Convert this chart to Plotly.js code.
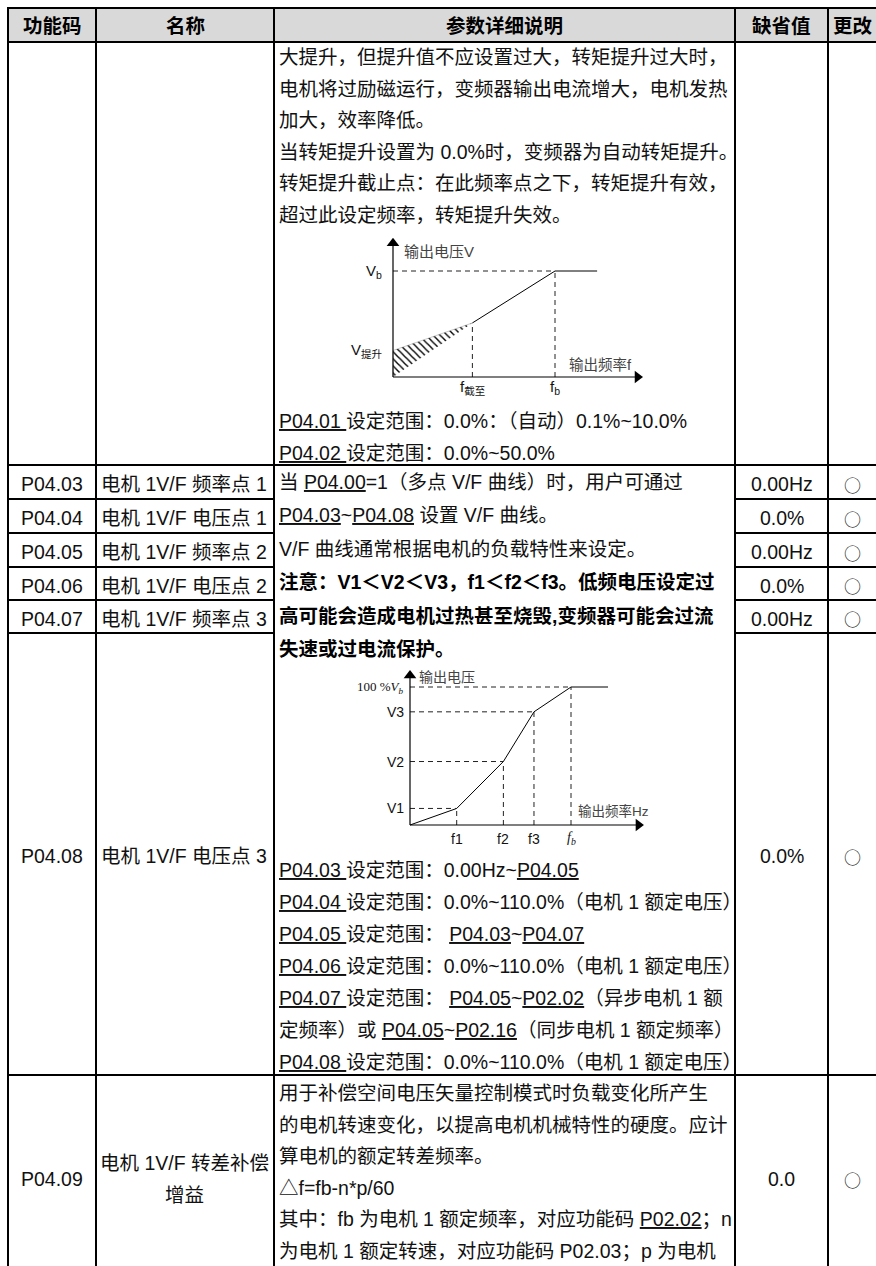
<!DOCTYPE html>
<html>
<head>
<meta charset="utf-8">
<script src="https://cdn.plot.ly/plotly-3.0.1.min.js"></script>
<style>
  html, body { margin: 0; padding: 0; background: #fff; }
  #chart { width: 876px; height: 1266px; }
</style>
</head>
<body>
<div id="chart"></div>
<script>
// ---------------------------------------------------------------------------
//  Table content (P04 group, V/F parameters)
// ---------------------------------------------------------------------------
const headers  = ['功能码', '名称', '参数详细说明', '缺省值', '更改'];
const codes    = ['', 'P04.03', 'P04.04', 'P04.05', 'P04.06', 'P04.07', 'P04.08', 'P04.09'];
const names    = [[], ['电机 1V/F 频率点 1'], ['电机 1V/F 电压点 1'], ['电机 1V/F 频率点 2'],
                  ['电机 1V/F 电压点 2'], ['电机 1V/F 频率点 3'], ['电机 1V/F 电压点 3'],
                  ['电机 1V/F 转差补偿', '增益']];
const defaults = ['', '0.00Hz', '0.0%', '0.00Hz', '0.0%', '0.00Hz', '0.0%', '0.0'];
const changes  = ['', '○', '○', '○', '○', '○', '○', '○'];

const descBoost = [
  '大提升，但提升值不应设置过大，转矩提升过大时，',
  '电机将过励磁运行，变频器输出电流增大，电机发热',
  '加大，效率降低。',
  '当转矩提升设置为 0.0%时，变频器为自动转矩提升。',
  '转矩提升截止点：在此频率点之下，转矩提升有效，',
  '超过此设定频率，转矩提升失效。',
];
const descBoostRange = [
  '<u>P04.01 </u>设定范围：0.0%：（自动）0.1%~10.0%',
  '<u>P04.02 </u>设定范围：0.0%~50.0%',
];
const descVf = [
  '当 <u>P04.00</u>=1（多点 V/F 曲线）时，用户可通过',
  '<u>P04.03</u>~<u>P04.08</u> 设置 V/F 曲线。',
  'V/F 曲线通常根据电机的负载特性来设定。',
  '注意：V1＜V2＜V3，f1＜f2＜f3。低频电压设定过',
  '高可能会造成电机过热甚至烧毁,变频器可能会过流',
  '失速或过电流保护。',
];
const descVfBold = [false, false, false, true, true, true];
const descVfRange = [
  '<u>P04.03 </u>设定范围：0.00Hz~<u>P04.05</u>',
  '<u>P04.04 </u>设定范围：0.0%~110.0%（电机 1 额定电压）',
  '<u>P04.05 </u>设定范围： <u>P04.03</u>~<u>P04.07</u>',
  '<u>P04.06 </u>设定范围：0.0%~110.0%（电机 1 额定电压）',
  '<u>P04.07 </u>设定范围： <u>P04.05</u>~<u>P02.02</u>（异步电机 1 额',
  '定频率）或 <u>P04.05</u>~<u>P02.16</u>（同步电机 1 额定频率）',
  '<u>P04.08 </u>设定范围：0.0%~110.0%（电机 1 额定电压）',
];
const descSlip = [
  '用于补偿空间电压矢量控制模式时负载变化所产生',
  '的电机转速变化，以提高电机机械特性的硬度。应计',
  '算电机的额定转差频率。',
  '△f=fb-n*p/60',
  '其中：fb 为电机 1 额定频率，对应功能码 <u>P02.02</u>；n',
  '为电机 1 额定转速，对应功能码 P02.03；p 为电机',
];

// ---------------------------------------------------------------------------
//  Diagram data (f in units of f_b, V in units of V_b)
// ---------------------------------------------------------------------------
// torque boost: hatched boost area, then the V/F line
const boostAreaF = [0, 0, 0.49];
const boostAreaV = [0, 0.25, 0.51];
const boostLineF = [0.49, 1, 1.26];
const boostLineV = [0.51, 1, 1];
const boostTickF = [0.49, 1];
const boostTickFLabels = ['f<sub>截至</sub>', 'f<sub>b</sub>'];
const boostTickV = [0.25, 1];
const boostTickVLabels = ['V<sub>提升</sub>', 'V<sub>b</sub>'];
const boostAxisEnd = [1.54, 1.31];

// multi-point V/F curve
const vfF = [0, 0.29, 0.58, 0.77, 1, 1.23];
const vfV = [0, 0.12, 0.46, 0.82, 1, 1];
const vfFLabels = ['f1', 'f2', 'f3', '<i>f<sub>b</sub></i>'];
const vfVLabels = ['V1', 'V2', 'V3', '100 %<i>V<sub>b</sub></i>'];
const vfAxisEnd = [1.45, 1.12];

// ---------------------------------------------------------------------------
//  Page layout (pixels)
// ---------------------------------------------------------------------------
const W = 876, H = 1266;
const colX = [8, 96, 274, 735, 828, 878];
const rowY = [8, 42, 465, 499, 533, 567, 600, 633, 1075, 1279];
const TEXT_X = 278;
const FONT = '"Liberation Sans", Arial, "Noto Sans CJK SC", sans-serif';
const SERIF = '"Liberation Serif", "Times New Roman", serif';
const FS = 19.5, INK = '#111';

const shapes = [], ann = [];

function hline(y, x0, x1) {
  shapes.push({ type: 'line', xref: 'x', yref: 'y', x0: x0 - 1, x1: x1 + 1, y0: y, y1: y,
    line: { color: '#000', width: 2 } });
}
function vline(x, y0, y1) {
  shapes.push({ type: 'line', xref: 'x', yref: 'y', x0: x, x1: x, y0: y0 - 1, y1: y1,
    line: { color: '#000', width: 2 } });
}
function txt(x, y, text, o = {}) {
  ann.push({ xref: o.xref || 'x', yref: o.yref || 'y', x, y, text, showarrow: false,
    xanchor: o.xanchor || 'left', yanchor: o.yanchor || 'middle', borderpad: 0,
    font: { family: o.family || FONT, size: o.size || FS, color: o.color || INK,
            weight: o.weight || 'normal' } });
}

// header background + grid
shapes.push({ type: 'rect', xref: 'x', yref: 'y', x0: colX[0], x1: colX[5], y0: rowY[0], y1: rowY[1],
  fillcolor: '#d9d9d9', line: { width: 0 }, layer: 'below' });
[rowY[0], rowY[1], rowY[2], rowY[8]].forEach((y) => hline(y, colX[0], colX[5]));
for (let k = 3; k <= 7; k++) {            // P04.03~P04.08 share one description cell
  hline(rowY[k], colX[0], colX[2]);
  hline(rowY[k], colX[3], colX[5]);
}
colX.forEach((x) => vline(x, rowY[0], H + 2));

// header text
headers.forEach((h, i) => txt((colX[i] + colX[i + 1]) / 2, (rowY[0] + rowY[1]) / 2 + 1, h,
  { xanchor: 'center', weight: 'bold', color: '#000' }));

// left / right columns
codes.forEach((c, r) => {
  const top = rowY[r + 1], bot = rowY[r + 2], mid = (top + bot) / 2 + 2;
  if (c) txt((colX[0] + colX[1]) / 2, mid, c, { xanchor: 'center' });
  const nm = names[r];
  nm.forEach((s, j) => txt((colX[1] + colX[2]) / 2 - 1, mid + (j - (nm.length - 1) / 2) * 31.5, s,
    { xanchor: 'center' }));
  if (defaults[r]) txt((colX[3] + colX[4]) / 2, mid, defaults[r], { xanchor: 'center' });
  if (changes[r]) txt((colX[4] + colX[5]) / 2 - 1, mid, changes[r],
    { xanchor: 'center', size: 17, family: '"Noto Sans CJK SC", sans-serif', color: '#222' });
});

// description column
function block(lines, y0, dy, bold) {
  lines.forEach((s, i) => txt(TEXT_X, y0 + i * dy, s,
    { weight: bold && bold[i] ? 'bold' : 'normal', color: bold && bold[i] ? '#000' : INK }));
}
block(descBoost, 57, 31.5);
block(descBoostRange, 421, 32);
block(descVf, 482, 33.4, descVfBold);
block(descVfRange, 870, 32);
block(descSlip, 1093, 31.6);

// ---------------------------------------------------------------------------
//  Diagram axes placed in the page
// ---------------------------------------------------------------------------
function inset(ox, oy, ux, uy, xr, yr) {
  return {
    ux, uy,
    x: { domain: [(ox + xr[0] * ux) / W, (ox + xr[1] * ux) / W], range: xr },
    y: { domain: [(H - (oy - yr[0] * uy)) / H, (H - (oy - yr[1] * uy)) / H], range: yr },
  };
}
const d1 = inset(393, 377, 162, 106, [-0.4, 1.7], [-0.3, 1.45]);
const d2 = inset(410, 825, 161, 138, [-0.4, 1.6], [-0.25, 1.25]);
const hidden = { visible: false, fixedrange: true, showgrid: false, zeroline: false };

const DASH = '5px,4px';
const traces = [];

// axes with filled arrow heads
function axesWithArrows(xa, ya, d, end) {
  const hx = 5 / d.ux, hy = 5 / d.uy;
  traces.push({ x: [0, end[0] - hx, null, 0, 0], y: [0, 0, null, 0, end[1] - hy], xaxis: xa, yaxis: ya,
    mode: 'lines', line: { color: '#000', width: 1.2 } });
  traces.push({ x: [end[0] - hx, 0], y: [0, end[1] - hy], xaxis: xa, yaxis: ya, mode: 'markers',
    marker: { symbol: ['triangle-right', 'triangle-up'], size: 11, color: '#000', line: { width: 0 } } });
}

// --- diagram 1: torque boost
traces.push({ x: boostAreaF, y: boostAreaV, xaxis: 'x2', yaxis: 'y2', mode: 'lines', fill: 'toself',
  fillcolor: 'rgba(255,255,255,0)', line: { color: '#777', width: 0.4 },
  fillpattern: { shape: '\\', fgcolor: '#000', bgcolor: '#fff', size: 5, solidity: 0.28 } });
traces.push({ x: boostLineF, y: boostLineV, xaxis: 'x2', yaxis: 'y2', mode: 'lines',
  line: { color: '#000', width: 1 } });
{
  const gx = [], gy = [];
  const iB = boostLineV.indexOf(1);
  gx.push(0, boostLineF[iB], null); gy.push(boostLineV[iB], boostLineV[iB], null);
  boostTickF.forEach((f) => {
    const v = boostLineV[boostLineF.indexOf(f)];
    gx.push(f, f, null); gy.push(0, v, null);
  });
  traces.push({ x: gx, y: gy, xaxis: 'x2', yaxis: 'y2', mode: 'lines',
    line: { color: '#222', width: 1, dash: DASH } });
}
axesWithArrows('x2', 'y2', d1, boostAxisEnd);

// --- diagram 2: multi-point V/F
traces.push({ x: vfF, y: vfV, xaxis: 'x3', yaxis: 'y3', mode: 'lines',
  line: { color: '#000', width: 1 } });
{
  const gx = [], gy = [];
  for (let i = 1; i <= 4; i++) {
    gx.push(0, vfF[i], null, vfF[i], vfF[i], null);
    gy.push(vfV[i], vfV[i], null, 0, vfV[i], null);
  }
  traces.push({ x: gx, y: gy, xaxis: 'x3', yaxis: 'y3', mode: 'lines',
    line: { color: '#222', width: 1, dash: DASH } });
}
axesWithArrows('x3', 'y3', d2, vfAxisEnd);

// diagram labels
const D1 = { xref: 'x2', yref: 'y2' }, D2 = { xref: 'x3', yref: 'y3' };
txt(0.06, 1.18, '输出电压V', { ...D1, size: 15, color: '#444' });
txt(1.08, 0.11, '输出频率f', { ...D1, size: 14.5, color: '#444' });
boostTickV.forEach((v, i) => txt(-0.06, v, boostTickVLabels[i], { ...D1, size: 15, xanchor: 'right' }));
boostTickF.forEach((f, i) => txt(f, -0.1, boostTickFLabels[i], { ...D1, size: 15, xanchor: 'center' }));

txt(0.05, 1.07, '输出电压', { ...D2, size: 14, color: '#444' });
txt(1.04, 0.1, '输出频率Hz', { ...D2, size: 13.5, color: '#444' });
vfVLabels.forEach((s, i) => txt(-0.03, vfV[i + 1], s,
  { ...D2, size: i === 3 ? 13 : 14, xanchor: 'right', family: i === 3 ? SERIF : FONT }));
vfFLabels.forEach((s, i) => txt(vfF[i + 1], -0.1, s,
  { ...D2, size: 14, xanchor: 'center', family: i === 3 ? SERIF : FONT }));

const layout = {
  width: W, height: H, margin: { l: 0, r: 0, t: 0, b: 0, pad: 0 },
  paper_bgcolor: '#fff', plot_bgcolor: 'rgba(0,0,0,0)', showlegend: false,
  xaxis: { ...hidden, range: [0, W], domain: [0, 1] },
  yaxis: { ...hidden, range: [H, 0], domain: [0, 1] },
  xaxis2: { ...hidden, ...d1.x, anchor: 'y2' },
  yaxis2: { ...hidden, ...d1.y, anchor: 'x2' },
  xaxis3: { ...hidden, ...d2.x, anchor: 'y3' },
  yaxis3: { ...hidden, ...d2.y, anchor: 'x3' },
  shapes, annotations: ann,
};

Plotly.newPlot('chart', traces, layout, { staticPlot: true, displayModeBar: false });
</script>
</body>
</html>
